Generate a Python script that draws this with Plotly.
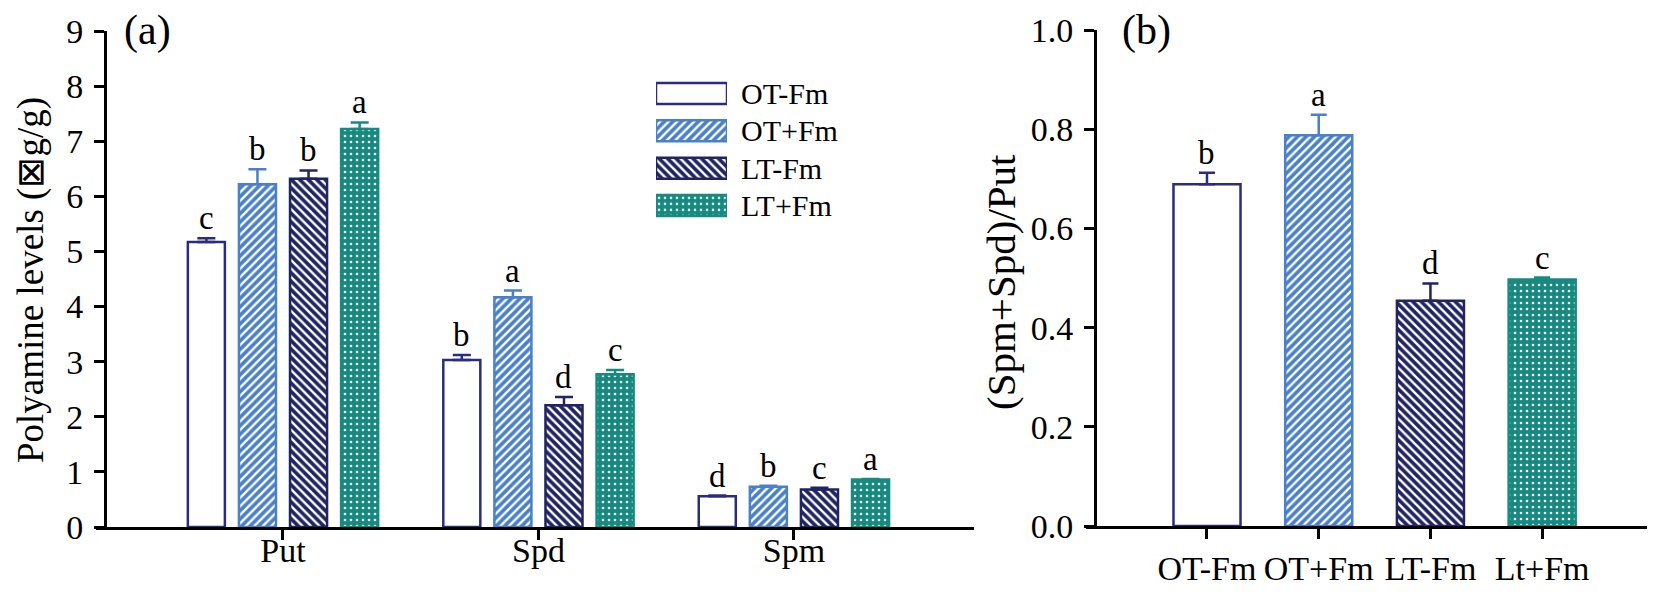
import plotly.graph_objects as go

# ---- data ----
GROUPS = ["OT-Fm", "OT+Fm", "LT-Fm", "LT+Fm"]
AMINES = ["Put", "Spd", "Spm"]

OT_MINUS = [5.17, 3.03, 0.56]
OT_MINUS_ERR = [0.07, 0.09, 0.01]
OT_PLUS = [6.22, 4.17, 0.73]
OT_PLUS_ERR = [0.27, 0.12, 0.02]
LT_MINUS = [6.32, 2.21, 0.68]
LT_MINUS_ERR = [0.15, 0.15, 0.03]
LT_PLUS = [7.22, 2.77, 0.86]
LT_PLUS_ERR = [0.12, 0.08, 0.01]

LETTERS_A = [["c", "b", "d"], ["b", "a", "b"], ["b", "d", "c"], ["a", "c", "a"]]

RATIO_LABELS = ["OT-Fm", "OT+Fm", "LT-Fm", "Lt+Fm"]
RATIO = [0.689, 0.788, 0.454, 0.497]
RATIO_ERR = [0.023, 0.041, 0.035, 0.004]
LETTERS_B = ["b", "a", "d", "c"]

# ---- styles ----
FONT = "Liberation Serif"
NAVY = "#2b2d7c"
BLUE = "#4a80c8"
DARK = "#222460"
TEAL = "#168a80"

styles = [
    dict(color="white", line=NAVY, pattern=None),
    dict(color=BLUE, line=BLUE, pattern=dict(shape="/", fgcolor="white", bgcolor=BLUE, size=6, solidity=0.4, fillmode="replace")),
    dict(color=DARK, line=DARK, pattern=dict(shape="\\", fgcolor="white", bgcolor=DARK, size=6, solidity=0.4, fillmode="replace")),
    dict(color=TEAL, line=TEAL, pattern=dict(shape=".", fgcolor="white", bgcolor=TEAL, size=6, solidity=0.15, fillmode="replace")),
]

# page body has an 8px margin, so the figure is 8px smaller and positions
# below are given in screenshot pixels
MARGIN = 8
W, H = 1655 - MARGIN, 592 - MARGIN
def px(x):
    return (x - MARGIN) / W
def py(y):
    return 1 - (y - MARGIN) / H

def bar_marker(st):
    m = dict(color=st["color"], line=dict(color=st["line"], width=2.5))
    if st["pattern"]:
        m["pattern"] = st["pattern"]
    return m

OFFSETS = [-0.3, -0.1, 0.1, 0.3]
values = [OT_MINUS, OT_PLUS, LT_MINUS, LT_PLUS]
errors = [OT_MINUS_ERR, OT_PLUS_ERR, LT_MINUS_ERR, LT_PLUS_ERR]

fig = go.Figure()
annotations = []
letter_font = dict(family=FONT, size=33, color="black")

# panel (a)
for i, g in enumerate(GROUPS):
    st = styles[i]
    xs = [j + OFFSETS[i] for j in range(len(AMINES))]
    fig.add_trace(go.Bar(
        x=xs, y=values[i], width=0.145, marker=bar_marker(st), name=g, showlegend=False,
        error_y=dict(type="data", array=errors[i], arrayminus=[0] * len(AMINES), symmetric=False,
                     color=st["line"], thickness=2.5, width=9),
        xaxis="x", yaxis="y",
    ))
    for j in range(len(AMINES)):
        annotations.append(dict(
            x=xs[j], y=values[i][j] + errors[i][j], xref="x", yref="y",
            text=LETTERS_A[i][j], showarrow=False, yanchor="bottom", yshift=0,
            font=letter_font,
        ))

# legend drawn as a small bar axis
for i, g in enumerate(GROUPS):
    fig.add_trace(go.Bar(
        x=[1], y=[i], orientation="h", width=0.56, marker=bar_marker(styles[i]), showlegend=False,
        xaxis="x3", yaxis="y3",
    ))
    annotations.append(dict(
        x=px(739), y=i, xref="paper", yref="y3", text=g, showarrow=False,
        xanchor="left", yanchor="middle", font=dict(family=FONT, size=30, color="black"),
    ))

# panel (b)
for i, lab in enumerate(RATIO_LABELS):
    st = styles[i]
    fig.add_trace(go.Bar(
        x=[i], y=[RATIO[i]], width=0.6, marker=bar_marker(st), showlegend=False,
        error_y=dict(type="data", array=[RATIO_ERR[i]], arrayminus=[0], symmetric=False,
                     color=st["line"], thickness=2.5, width=8),
        xaxis="x2", yaxis="y2",
    ))
    annotations.append(dict(
        x=i, y=RATIO[i] + RATIO_ERR[i], xref="x2", yref="y2",
        text=LETTERS_B[i], showarrow=False, yanchor="bottom", yshift=0,
        font=letter_font,
    ))

# panel labels and axis titles
annotations += [
    dict(x=px(122), y=py(30), xref="paper", yref="paper", text="(a)", showarrow=False,
         xanchor="left", yanchor="middle", font=dict(family=FONT, size=42, color="black")),
    dict(x=px(1120), y=py(30), xref="paper", yref="paper", text="(b)", showarrow=False,
         xanchor="left", yanchor="middle", font=dict(family=FONT, size=42, color="black")),
    dict(x=px(31), y=py(280), xref="paper", yref="paper", text="Polyamine levels (⊠g/g)",
         showarrow=False, textangle=-90, xanchor="center", yanchor="middle",
         font=dict(family=FONT, size=37, color="black")),
    dict(x=px(1001), y=py(282), xref="paper", yref="paper", text="(Spm+Spd)/Put",
         showarrow=False, textangle=-90, xanchor="center", yanchor="middle",
         font=dict(family=FONT, size=41, color="black")),
]

tickfont = dict(family=FONT, size=34, color="black")
axis_common = dict(
    showline=True, linecolor="black", linewidth=3, ticks="outside", ticklen=10,
    tickwidth=3, tickcolor="black", showgrid=False, zeroline=False,
    tickfont=tickfont, automargin=False,
)

fig.update_layout(
    template="none",
    width=W, height=H,
    margin=dict(l=0, r=0, t=0, b=0, pad=0),
    paper_bgcolor="white", plot_bgcolor="white",
    barmode="overlay",
    annotations=annotations,
    xaxis=dict(
        domain=[px(96), px(974)], range=[-0.732, 2.705],
        tickvals=list(range(len(AMINES))), ticktext=AMINES,
        ticklabelstandoff=-19, anchor="y", **axis_common,
    ),
    yaxis=dict(
        domain=[py(527), py(31)], range=[0, 9], dtick=1, anchor="free", position=px(105),
        ticklabelstandoff=4, **axis_common,
    ),
    xaxis2=dict(
        domain=[px(1086), 1.0], range=[-1.083, 4.01],
        tickvals=list(range(len(RATIO_LABELS))), ticktext=RATIO_LABELS,
        ticklabelstandoff=0, anchor="y2", **axis_common,
    ),
    yaxis2=dict(
        domain=[py(526), py(30)], range=[0, 1.0], dtick=0.2, tickformat=".1f",
        anchor="free", position=px(1095),
        ticklabelstandoff=4, **axis_common,
    ),
    xaxis3=dict(
        domain=[px(656), px(727)], range=[0, 1], visible=False, anchor="y3", automargin=False,
    ),
    yaxis3=dict(
        domain=[py(224.2), py(74.8)], range=[3.5, -0.5], anchor="x3", visible=False,
        automargin=False,
    ),
)

fig.write_html("out.html")
